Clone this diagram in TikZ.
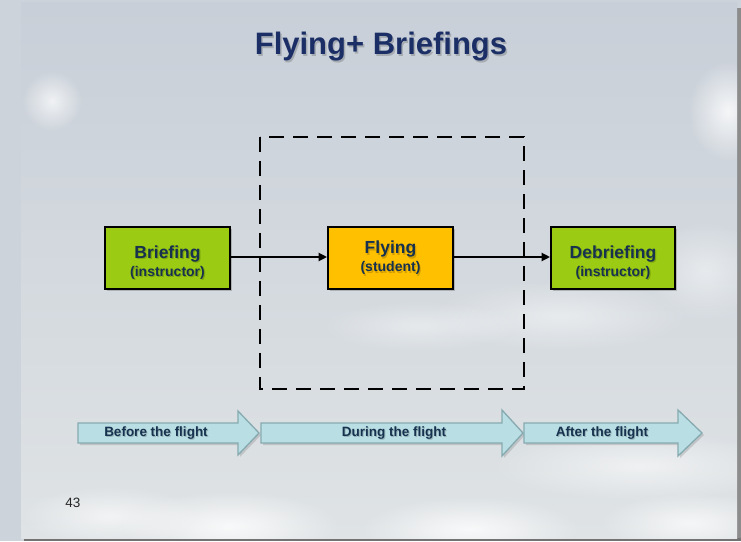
\documentclass[tikz,border=0pt]{standalone}
\usepackage{fontspec}
\setmainfont{Liberation Sans}
\usetikzlibrary{shadows,fadings,arrows.meta}

\definecolor{pagegray}{HTML}{CDD3DB}
\definecolor{skytop}{HTML}{C8CFD8}
\definecolor{skybot}{HTML}{DFE3E5}
\definecolor{titlenavy}{HTML}{1B2F66}
\definecolor{labelnavy}{HTML}{17324F}
\definecolor{boxgreen}{HTML}{9BCB12}
\definecolor{boxamber}{HTML}{FFC000}
\definecolor{phasefill}{HTML}{B9DEE3}
\definecolor{phaseline}{HTML}{86AAB0}

% radial fading: opaque centre, transparent rim
\tikzfading[name=softcloud, inner color=transparent!0, outer color=transparent!100]

\tikzset{
  stagebox/.style={draw=black, line width=1.8pt, minimum height=62pt,
    drop shadow={opacity=0.45, shadow xshift=2pt, shadow yshift=-2pt}},
  stagetext/.style={align=center, text=labelnavy, font=\bfseries, inner sep=0pt},
  textshade/.style={text=black, text opacity=0.18},
  flowline/.style={line width=2.2pt, -{Triangle[length=8.5pt,width=8pt]}},
  window/.style={draw=black, line width=2pt, dash pattern=on 15pt off 9pt},
  phase/.style={fill=phasefill, draw=phaseline, line width=1.3pt, line join=miter,
    drop shadow={opacity=0.3, shadow xshift=2pt, shadow yshift=-2pt}},
  phasetext/.style={text=labelnavy, font=\fontsize{13.5}{16}\selectfont\bfseries, inner sep=0pt},
  cloud/.style={fill=white, path fading=softcloud},
}

\newcommand\mainline[1]{{\fontsize{17.5}{19}\selectfont #1}}
\newcommand\subline[1]{{\fontsize{14}{17}\selectfont #1}}

\begin{document}
\begin{tikzpicture}[x=1pt,y=1pt]
  \useasboundingbox (0,0) rectangle (741,541);

  % page and slide frame
  \fill[pagegray] (0,0) rectangle (741,541);
  \fill[black!45] (737,0) rectangle (741,533);
  \fill[black!55] (24,0) rectangle (741,3);

  % sky background
  \begin{scope}
    \clip (21,3) rectangle (737,538);
    \shade[top color=skytop, bottom color=skybot] (21,3) rectangle (737,538);
    % soft clouds
    \fill[cloud, opacity=0.7] (52,440) ellipse (30pt and 30pt);
    \fill[cloud, opacity=0.8] (728,430) ellipse (40pt and 50pt);
    \fill[cloud, opacity=0.45] (560,225) ellipse (130pt and 35pt);
    \fill[cloud, opacity=0.4] (420,215) ellipse (100pt and 25pt);
    \fill[cloud, opacity=0.45] (705,270) ellipse (60pt and 50pt);
    \fill[cloud, opacity=0.55] (640,75) ellipse (150pt and 35pt);
    \fill[cloud, opacity=0.8] (230,15) ellipse (110pt and 35pt);
    \fill[cloud, opacity=0.8] (470,12) ellipse (110pt and 32pt);
    \fill[cloud, opacity=0.6] (110,25) ellipse (90pt and 30pt);
    \fill[cloud, opacity=0.7] (690,18) ellipse (90pt and 30pt);
  \end{scope}

  % title
  \node[textshade, font=\fontsize{31}{36}\selectfont\bfseries] (title-sh) at (382.5,492.5) {Flying+ Briefings};
  \node[text=titlenavy, font=\fontsize{31}{36}\selectfont\bfseries] (title) at (381,494) {Flying+ Briefings};

  % in-flight window
  \draw[window] (260,404) rectangle (524,152);

  % stage boxes
  \node[stagebox, fill=boxgreen, minimum width=125pt] (brief) at (167.5,283) {};
  \node[stagebox, fill=boxamber, minimum width=125pt] (fly) at (390.5,283) {};
  \node[stagebox, fill=boxgreen, minimum width=124pt] (debrief) at (613,283) {};

  \node[stagetext, textshade] (brief-sh) at ([shift={(1.2,-5.7)}]brief.center) {\mainline{Briefing}\\[3pt]\subline{(instructor)}};
  \node[stagetext] (brief-txt) at ([yshift=-4.5pt]brief.center) {\mainline{Briefing}\\[3pt]\subline{(instructor)}};
  \node[stagetext, textshade] (fly-sh) at ([shift={(1.2,-1.2)}]fly.center) {\mainline{Flying}\\[3pt]\subline{(student)}};
  \node[stagetext] (fly-txt) at (fly.center) {\mainline{Flying}\\[3pt]\subline{(student)}};
  \node[stagetext, textshade] (debrief-sh) at ([shift={(1.2,-5.7)}]debrief.center) {\mainline{Debriefing}\\[3pt]\subline{(instructor)}};
  \node[stagetext] (debrief-txt) at ([yshift=-4.5pt]debrief.center) {\mainline{Debriefing}\\[3pt]\subline{(instructor)}};

  % flow between stages
  \draw[flowline] ([yshift=1pt]brief.east) -- ([yshift=1pt]fly.west);
  \draw[flowline] ([yshift=1pt]fly.east) -- ([yshift=1pt]debrief.west);

  % phase arrows
  \path[phase] (78,118) -- (238,118) -- (238,130) -- (259,108) -- (238,86) -- (238,98) -- (78,98) -- cycle;
  \path[phase] (261,118) -- (502,118) -- (502,131) -- (523,108) -- (502,85) -- (502,98) -- (261,98) -- cycle;
  \path[phase] (524,118) -- (678,118) -- (678,131) -- (702,108) -- (678,85) -- (678,98) -- (524,98) -- cycle;

  \node[phasetext, textshade] (before-sh) at (157,107) {Before the flight};
  \node[phasetext] (before) at (156,108) {Before the flight};
  \node[phasetext, textshade] (during-sh) at (395,107) {During the flight};
  \node[phasetext] (during) at (394,108) {During the flight};
  \node[phasetext, textshade] (after-sh) at (603,107) {After the flight};
  \node[phasetext] (after) at (602,108) {After the flight};

  % slide number
  \node[font=\fontsize{13.5}{16}\selectfont, text=black!85] (pagenum) at (73,38) {43};
\end{tikzpicture}
\end{document}
